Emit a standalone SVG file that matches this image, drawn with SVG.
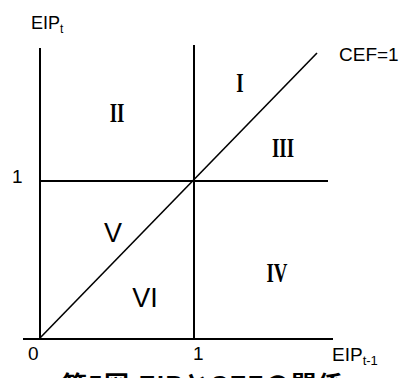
<svg xmlns="http://www.w3.org/2000/svg" width="400" height="378" viewBox="0 0 400 378">
<style>
.ln{stroke:#000;stroke-width:2;fill:none}
.dg{stroke:#000;stroke-width:1.6;fill:none}
.s{font-family:"Liberation Sans",Arial,sans-serif;fill:#000}
.r{font-family:"Liberation Serif","Times New Roman",serif;font-size:27px;font-weight:bold;fill:#000}
.c{font-family:"Liberation Sans","Noto Sans CJK JP",sans-serif;font-size:25px;font-weight:bold;fill:#000;letter-spacing:1.5px}
</style>
<rect width="400" height="378" fill="#fff"/>
<g id="connectors">
<line class="ln" x1="40" y1="48" x2="40" y2="340"/>
<line class="ln" x1="194" y1="45" x2="194" y2="340"/>
<line class="ln" x1="23" y1="339" x2="333" y2="339"/>
<line class="ln" x1="39" y1="181" x2="328" y2="181"/>
<line class="dg" x1="39" y1="339" x2="317" y2="53"/>
</g>
<g id="axis-labels">
<text class="s" x="31" y="29" font-size="18">EIP<tspan font-size="12" dy="4">t</tspan></text>
<text class="s" x="339" y="61" font-size="19">CEF=1</text>
<text class="s" x="332" y="361" font-size="19">EIP<tspan font-size="13" dy="4">t-1</tspan></text>
<text class="s" x="12" y="183" font-size="19">1</text>
<text class="s" x="28" y="360" font-size="19">0</text>
<text class="s" x="193" y="360" font-size="19">1</text>
</g>
<g id="regions">
<text class="r" transform="translate(240,92) scale(0.7,1)" text-anchor="middle">I</text>
<text class="r" transform="translate(117,122) scale(0.7,1)" text-anchor="middle">II</text>
<text class="r" transform="translate(283,157) scale(0.7,1)" text-anchor="middle">III</text>
<text class="r" transform="translate(277,282) scale(0.7,1)" text-anchor="middle">IV</text>
<text class="s" x="113" y="242" font-size="27" text-anchor="middle">V</text>
<text class="s" x="145" y="307" font-size="27" text-anchor="middle">VI</text>
</g>
<g id="caption">
<text class="c" x="62" y="394">第5図 EIPとCEFの関係</text>
</g>
</svg>
